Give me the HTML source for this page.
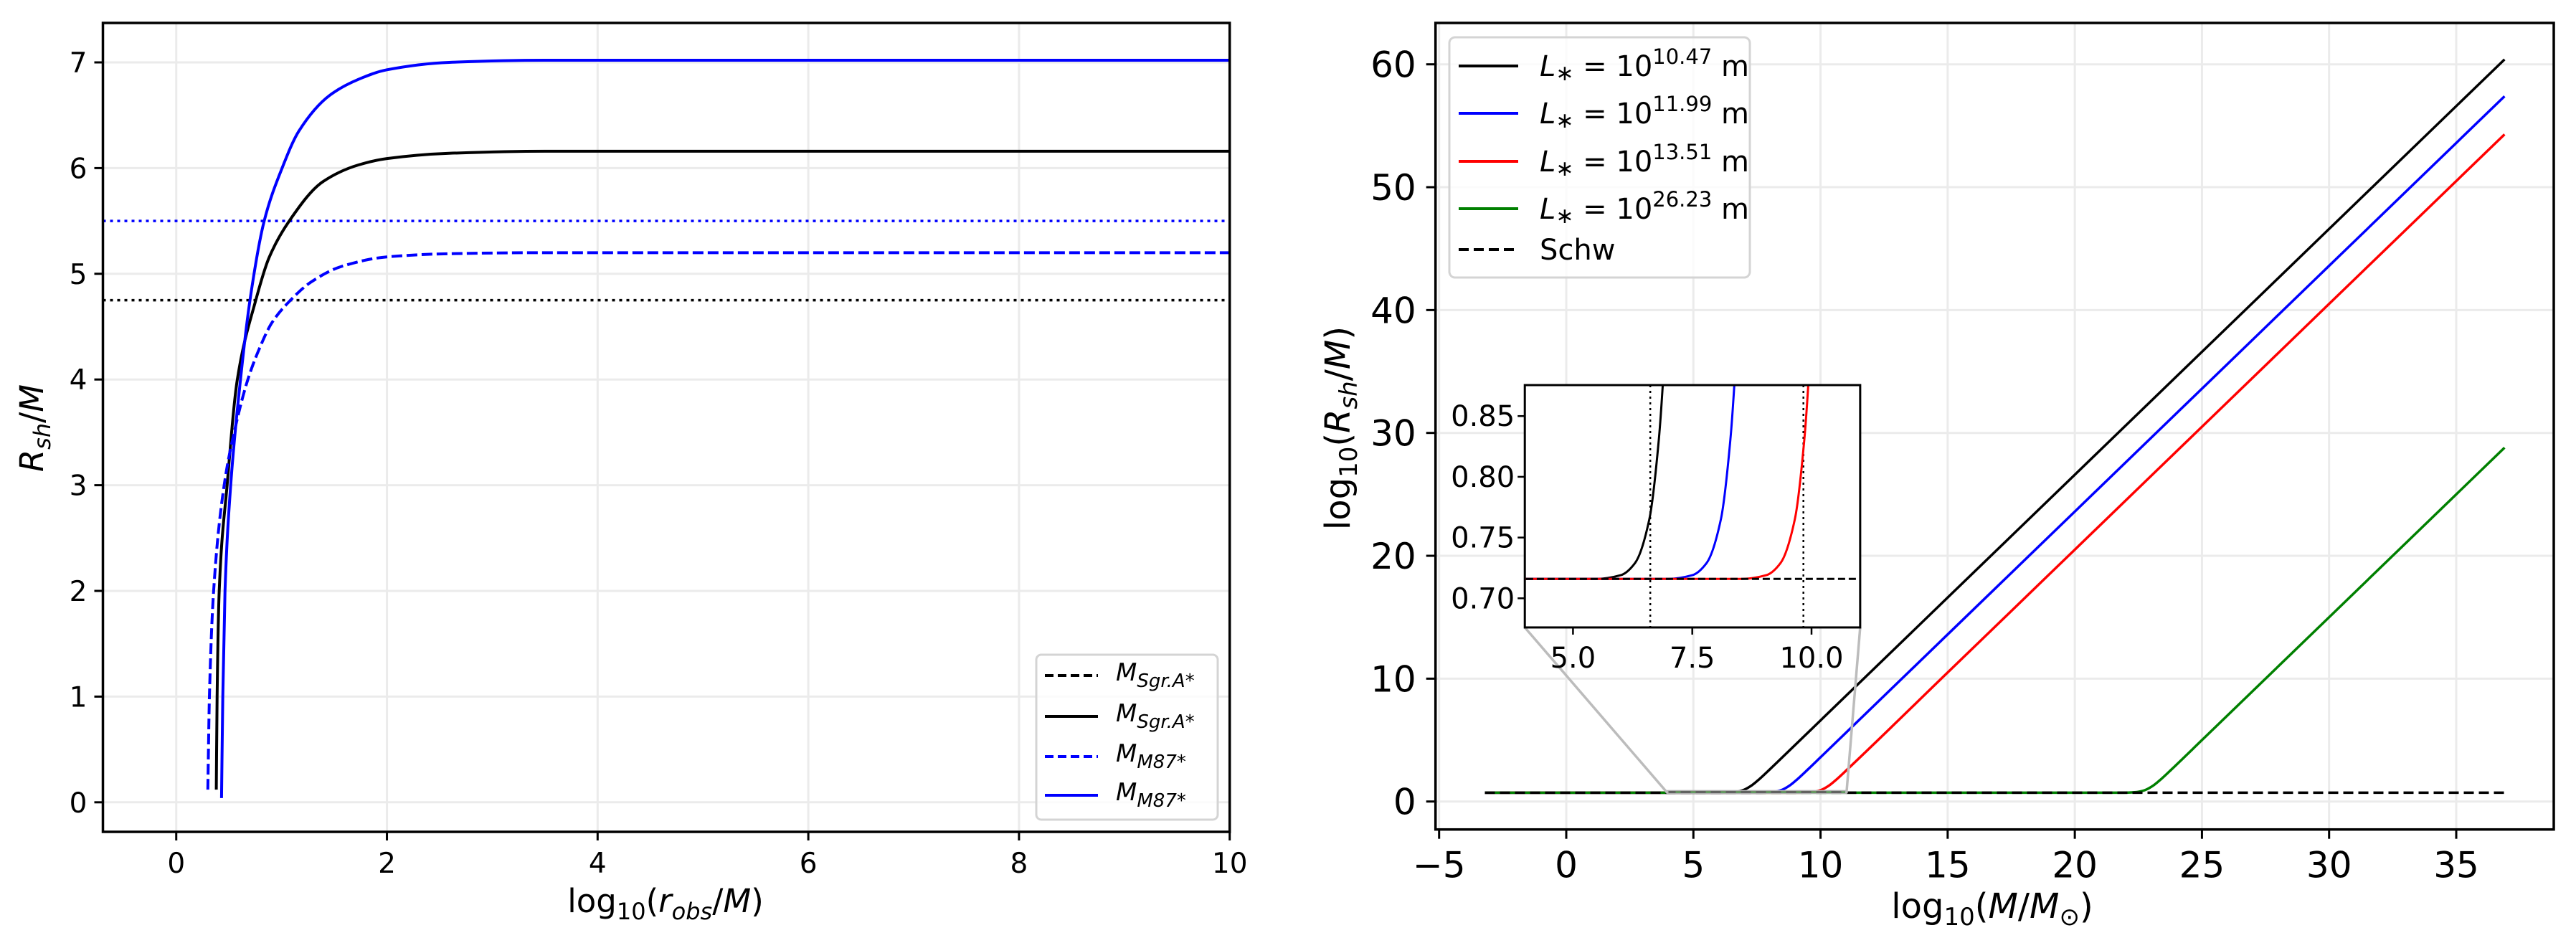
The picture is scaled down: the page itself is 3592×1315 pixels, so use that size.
<!DOCTYPE html>
<html><head><meta charset="utf-8"><style>
html,body{margin:0;padding:0;background:#fff;}
svg{display:block;font-family:"DejaVu Sans","Liberation Sans",sans-serif;}
</style></head><body>
<svg id="fig" width="3592" height="1315" viewBox="0 0 3592 1315" xmlns="http://www.w3.org/2000/svg"></svg>
<script>
// ---------- LEFT CHART DATA ----------
const leftXTicks = [0, 2, 4, 6, 8, 10];
const leftYTicks = [0, 1, 2, 3, 4, 5, 6, 7];
const sgrSolidX = [0.38, 0.388, 0.408, 0.483, 0.58, 0.755, 0.88, 1.073, 1.39, 1.73, 2.0, 2.59, 3.5, 10];
const sgrSolidY = [0.12, 1, 2, 3, 4, 4.75, 5.15, 5.5, 5.87, 6.03, 6.09, 6.14, 6.16, 6.16];
const m87SolidX = [0.43, 0.442, 0.463, 0.517, 0.61, 0.70, 0.835, 1.005, 1.164, 1.459, 1.731, 2.0, 2.59, 3.5, 10];
const m87SolidY = [0.04, 1, 2, 3, 4.0, 4.75, 5.5, 6.0, 6.35, 6.69, 6.84, 6.93, 7.0, 7.02, 7.02];
const m87DashX = [0.30, 0.315, 0.355, 0.455, 0.55, 0.68, 0.78, 0.91, 1.085, 1.277, 1.57, 2.0, 2.59, 3.5, 10];
const m87DashY = [0.12, 1, 2, 3, 3.5, 4.0, 4.27, 4.54, 4.75, 4.92, 5.07, 5.16, 5.19, 5.2, 5.2];
const sgrDottedLevel = 4.75;
const m87DottedLevel = 5.5;

// ---------- RIGHT CHART DATA ----------
const rightXTicks = [-5, 0, 5, 10, 15, 20, 25, 30, 35];
const rightYTicks = [0, 10, 20, 30, 40, 50, 60];
const insetXTicks = [5.0, 7.5, 10.0];
const insetYTicks = [0.70, 0.75, 0.80, 0.85];
const l1047X = [-3.2, 5.5, 6.0, 6.3, 6.6, 6.8, 6.9, 7.0, 7.3, 7.6, 8, 9, 10, 15, 20, 25, 30, 36.9];
const l1047Y = [0.716, 0.716, 0.719, 0.729, 0.765, 0.831, 0.887, 0.963, 1.323, 1.834, 2.606, 4.6, 6.6, 16.6, 26.6, 36.6, 46.6, 60.4];
const l1199X = [-3.2, 7.0, 7.5, 7.8, 8.1, 8.3, 8.4, 8.5, 8.8, 9.1, 9.5, 10, 15, 20, 25, 30, 36.9];
const l1199Y = [0.716, 0.716, 0.719, 0.729, 0.765, 0.831, 0.887, 0.963, 1.323, 1.834, 2.606, 3.6, 13.6, 23.6, 33.6, 43.6, 57.4];
const l1351X = [-3.2, 8.55, 9.05, 9.35, 9.65, 9.85, 9.95, 10.05, 10.35, 10.65, 11.05, 15, 20, 25, 30, 36.9];
const l1351Y = [0.716, 0.716, 0.719, 0.729, 0.765, 0.831, 0.887, 0.963, 1.323, 1.834, 2.606, 10.5, 20.5, 30.5, 40.5, 54.3];
const l2623X = [-3.2, 21.3, 21.8, 22.1, 22.4, 22.6, 22.7, 22.8, 23.1, 23.4, 23.8, 25, 30, 36.9];
const l2623Y = [0.716, 0.716, 0.719, 0.729, 0.765, 0.831, 0.887, 0.963, 1.323, 1.834, 2.606, 5, 15, 28.8];
const schwX = [-3.2, 36.9];
const schwY = [0.716, 0.716];
const insetVLines = [6.62, 9.83];

const NS = "http://www.w3.org/2000/svg";
const svg = document.getElementById('fig');
function mk(tag, attrs, parent) {
  const e = document.createElementNS(NS, tag);
  for (const k in attrs) e.setAttribute(k, attrs[k]);
  (parent || svg).appendChild(e);
  return e;
}
function lin(d0, d1, r0, r1) { return v => r0 + (v - d0) * (r1 - r0) / (d1 - d0); }

// monotone cubic path through pixel points (x increasing)
function smoothPath(px, py) {
  const n = px.length;
  if (n < 3) return px.map((x, i) => (i ? 'L' : 'M') + x.toFixed(1) + ' ' + py[i].toFixed(1)).join(' ');
  const d = [], m = new Array(n);
  for (let i = 0; i < n - 1; i++) d.push((py[i + 1] - py[i]) / Math.max(px[i + 1] - px[i], 1e-6));
  m[0] = d[0]; m[n - 1] = d[n - 2];
  for (let i = 1; i < n - 1; i++) {
    if (d[i - 1] * d[i] <= 0) m[i] = 0;
    else {
      const w1 = 2 * (px[i + 1] - px[i]) + (px[i] - px[i - 1]);
      const w2 = (px[i + 1] - px[i]) + 2 * (px[i] - px[i - 1]);
      m[i] = (w1 + w2) / (w1 / d[i - 1] + w2 / d[i]);
    }
  }
  let s = 'M' + px[0].toFixed(1) + ' ' + py[0].toFixed(1);
  for (let i = 0; i < n - 1; i++) {
    const h = px[i + 1] - px[i];
    s += ' C' + (px[i] + h / 3).toFixed(2) + ' ' + (py[i] + m[i] * h / 3).toFixed(2) + ' ' +
      (px[i + 1] - h / 3).toFixed(2) + ' ' + (py[i + 1] - m[i + 1] * h / 3).toFixed(2) + ' ' +
      px[i + 1].toFixed(2) + ' ' + py[i + 1].toFixed(2);
  }
  return s;
}

// ---- left axes ----
const L = {x0: 143.5, x1: 1714.7, y0: 32, y1: 1160};
const lx = lin(-0.696, 10, L.x0, L.x1);
const ly = lin(0, 7, 1118.8, 87);
const lg = mk('g', {});


mk('defs', {}).innerHTML = '<clipPath id="clipL"><rect x="143.5" y="32" width="1571.2" height="1128"/></clipPath><clipPath id="clipR"><rect x="2001.7" y="32" width="1559.3" height="1124.7"/></clipPath><clipPath id="clipI"><rect x="2126" y="537" width="468" height="337.6"/></clipPath>';

leftXTicks.forEach(t => {
  const gl = mk('line', {x1: lx(t), x2: lx(t), y1: L.y0, y2: L.y1, stroke: '#ebebeb', 'stroke-width': 3}, lg);
  
  
  mk('line', {x1: lx(t), x2: lx(t), y1: L.y1, y2: L.y1 + 12, stroke: '#000', 'stroke-width': 3}, lg);
  const tx = mk('text', {x: lx(t), y: L.y1 + 57, 'text-anchor': 'middle', 'font-size': 39}, lg);
  tx.textContent = t;
  
  
});
leftYTicks.forEach(t => {
  const gl = mk('line', {x1: L.x0, x2: L.x1, y1: ly(t), y2: ly(t), stroke: '#ebebeb', 'stroke-width': 3}, lg);
  
  
  mk('line', {x1: L.x0 - 12, x2: L.x0, y1: ly(t), y2: ly(t), stroke: '#000', 'stroke-width': 3}, lg);
  const tx = mk('text', {x: L.x0 - 22, y: ly(t) + 14, 'text-anchor': 'end', 'font-size': 39}, lg);
  tx.textContent = t;
  
  
});
const lclip = mk('g', {'clip-path': 'url(#clipL)'}, lg);
function hline(level, color, ysc, parent, name, dash) {
  const e = mk('line', {x1: L.x0, x2: L.x1, y1: ysc(level), y2: ysc(level), stroke: color, 'stroke-width': 3.5, 'stroke-dasharray': dash}, parent);
  
  
}
hline(m87DottedLevel, '#0000ff', ly, lclip, 'm87-dotted-line', '4 6');
hline(sgrDottedLevel, '#000', ly, lclip, 'sgr-dotted-line', '4 6');
function series(xs, ys, fx, fy, color, parent, name, dash, w) {
  const d = smoothPath(xs.map(fx), ys.map(fy));
  const p = mk('path', {d: d, fill: 'none', stroke: color, 'stroke-width': w || 4, 'stroke-linejoin': 'round'}, parent);
  if (dash) p.setAttribute('stroke-dasharray', dash);
  
  
  return p;
}
series(sgrSolidX, sgrSolidY, lx, ly, '#000', lclip, 'sgr-solid-curve');
series(m87DashX, m87DashY, lx, ly, '#0000ff', lclip, 'm87-dashed-curve', '15 6');
series(m87SolidX, m87SolidY, lx, ly, '#0000ff', lclip, 'm87-solid-curve');
mk('rect', {x: L.x0, y: L.y0, width: L.x1 - L.x0, height: L.y1 - L.y0, fill: 'none', stroke: '#000', 'stroke-width': 3.5}, lg);

// left labels
let t = mk('text', {x: 928, y: 1272, 'text-anchor': 'middle', 'font-size': 45}, lg);
t.innerHTML = 'log<tspan font-size="32" dy="10">10</tspan><tspan dy="-10">(</tspan><tspan font-style="italic">r</tspan><tspan font-style="italic" font-size="32" dy="10">obs</tspan><tspan dy="-10">/</tspan><tspan font-style="italic">M</tspan>)';


t = mk('text', {x: 0, y: 0, 'text-anchor': 'middle', 'font-size': 45, transform: 'translate(60,597) rotate(-90)'}, lg);
t.innerHTML = '<tspan font-style="italic">R</tspan><tspan font-style="italic" font-size="32" dy="10">sh</tspan><tspan dy="-10">/</tspan><tspan font-style="italic">M</tspan>';



// left legend
const leg = mk('g', {}, lg);


mk('rect', {x: 1445, y: 913, width: 253, height: 230, rx: 7, fill: '#fff', 'fill-opacity': 0.8, stroke: '#d4d4d4', 'stroke-width': 3}, leg);
const lEntries = [['#000', '12 6', 'Sgr.A*'], ['#000', null, 'Sgr.A*'], ['#0000ff', '12 6', 'M87*'], ['#0000ff', null, 'M87*']];
const lEntY = [942, 999, 1055, 1109];
lEntries.forEach((en, i) => {
  const g = mk('g', {}, leg);
  
  
  const ln = mk('line', {x1: 1457, x2: 1531, y1: lEntY[i], y2: lEntY[i], stroke: en[0], 'stroke-width': 4}, g);
  if (en[1]) ln.setAttribute('stroke-dasharray', en[1]);
  const tx = mk('text', {x: 1556, y: lEntY[i] + 7, 'font-size': 34, 'font-style': 'italic'}, g);
  tx.innerHTML = 'M<tspan font-size="26" dy="9">' + en[2] + '</tspan>';
});

// ---- right axes ----
const R = {x0: 2001.7, x1: 3561, y0: 32, y1: 1156.7};
const rx = lin(-5, 35, 2006.7, 3425);
const ry = lin(0, 60, 1117.7, 89.7);
const rg = mk('g', {});


rightXTicks.forEach(v => {
  const gl = mk('line', {x1: rx(v), x2: rx(v), y1: R.y0, y2: R.y1, stroke: '#ebebeb', 'stroke-width': 3}, rg);
  
  
  mk('line', {x1: rx(v), x2: rx(v), y1: R.y1, y2: R.y1 + 13, stroke: '#000', 'stroke-width': 3}, rg);
  const tx = mk('text', {x: rx(v), y: R.y1 + 67, 'text-anchor': 'middle', 'font-size': 50}, rg);
  tx.textContent = v < 0 ? '\u2212' + (-v) : v;
  
  
});
rightYTicks.forEach(v => {
  const gl = mk('line', {x1: R.x0, x2: R.x1, y1: ry(v), y2: ry(v), stroke: '#ebebeb', 'stroke-width': 3}, rg);
  
  
  mk('line', {x1: R.x0 - 13, x2: R.x0, y1: ry(v), y2: ry(v), stroke: '#000', 'stroke-width': 3}, rg);
  const tx = mk('text', {x: R.x0 - 27, y: ry(v) + 18, 'text-anchor': 'end', 'font-size': 50}, rg);
  tx.textContent = v;
  
  
});
const rclip = mk('g', {'clip-path': 'url(#clipR)'}, rg);
series(l1047X, l1047Y, rx, ry, '#000', rclip, 'curve-l-10-47', null, 3.5);
series(l1199X, l1199Y, rx, ry, '#0000ff', rclip, 'curve-l-11-99', null, 3.5);
series(l1351X, l1351Y, rx, ry, '#ff0000', rclip, 'curve-l-13-51', null, 3.5);
series(l2623X, l2623Y, rx, ry, '#008000', rclip, 'curve-l-26-23', null, 3.5);
series(schwX, schwY, rx, ry, '#000', rclip, 'schw-dashed-line', '14 7', 3.5);
mk('rect', {x: R.x0, y: R.y0, width: R.x1 - R.x0, height: R.y1 - R.y0, fill: 'none', stroke: '#000', 'stroke-width': 3.5}, rg);

// inset
const ix = lin(5, 10, 2193.4, 2526);
const iy = lin(0.70, 0.85, 834.3, 580.2);
const ixMin = 3.99, ixMax = 11.02, iyMin = 0.676, iyMax = 0.8755;
const ind = mk('rect', {x: rx(ixMin), y: ry(iyMax), width: rx(ixMax) - rx(ixMin), height: ry(iyMin) - ry(iyMax), fill: 'none', stroke: '#b0b0b0', 'stroke-width': 2}, rg);


let c = mk('line', {x1: ix(ixMin), y1: iy(iyMin), x2: rx(ixMin), y2: ry(iyMin), stroke: '#bcbcbc', 'stroke-width': 3.5}, rg);


c = mk('line', {x1: ix(ixMax), y1: iy(iyMin), x2: rx(ixMax), y2: ry(iyMin), stroke: '#bcbcbc', 'stroke-width': 3.5}, rg);


const ig = mk('g', {}, rg);


mk('rect', {x: ix(ixMin), y: iy(iyMax), width: ix(ixMax) - ix(ixMin), height: iy(iyMin) - iy(iyMax), fill: '#fff'}, ig);
const iclip = mk('g', {'clip-path': 'url(#clipI)'}, ig);
insetVLines.forEach(v => {
  const e = mk('line', {x1: ix(v), x2: ix(v), y1: iy(iyMax), y2: iy(iyMin), stroke: '#000', 'stroke-width': 2.5, 'stroke-dasharray': '3 5'}, iclip);
  
  
});
series(l1047X, l1047Y, ix, iy, '#000', iclip, 'inset-curve-l-10-47', null, 3);
series(l1199X, l1199Y, ix, iy, '#0000ff', iclip, 'inset-curve-l-11-99', null, 3);
series(l1351X, l1351Y, ix, iy, '#ff0000', iclip, 'inset-curve-l-13-51', null, 3);
series(schwX, schwY, ix, iy, '#000', iclip, 'inset-schw-line', '10 5', 3);
mk('rect', {x: ix(ixMin), y: iy(iyMax), width: ix(ixMax) - ix(ixMin), height: iy(iyMin) - iy(iyMax), fill: 'none', stroke: '#000', 'stroke-width': 3}, ig);
insetXTicks.forEach(v => {
  mk('line', {x1: ix(v), x2: ix(v), y1: iy(iyMin), y2: iy(iyMin) + 10, stroke: '#000', 'stroke-width': 2.5}, ig);
  const tx = mk('text', {x: ix(v), y: iy(iyMin) + 56, 'text-anchor': 'middle', 'font-size': 40}, ig);
  tx.textContent = v.toFixed(1);
  
  
});
insetYTicks.forEach(v => {
  mk('line', {x1: ix(ixMin) - 10, x2: ix(ixMin), y1: iy(v), y2: iy(v), stroke: '#000', 'stroke-width': 2.5}, ig);
  const tx = mk('text', {x: ix(ixMin) - 14, y: iy(v) + 14, 'text-anchor': 'end', 'font-size': 40}, ig);
  tx.textContent = v.toFixed(2);
  
  
});

// right labels
t = mk('text', {x: 2778, y: 1280, 'text-anchor': 'middle', 'font-size': 48}, rg);
t.innerHTML = 'log<tspan font-size="34" dy="10">10</tspan><tspan dy="-10">(</tspan><tspan font-style="italic">M</tspan>/<tspan font-style="italic">M</tspan><tspan font-size="34" dy="10">\u2299</tspan><tspan dy="-10">)</tspan>';


t = mk('text', {x: 0, y: 0, 'text-anchor': 'middle', 'font-size': 48, transform: 'translate(1882,597) rotate(-90)'}, rg);
t.innerHTML = 'log<tspan font-size="34" dy="10">10</tspan><tspan dy="-10">(</tspan><tspan font-style="italic">R</tspan><tspan font-style="italic" font-size="34" dy="10">sh</tspan><tspan dy="-10">/</tspan><tspan font-style="italic">M</tspan>)';



// right legend
const rleg = mk('g', {}, rg);


mk('rect', {x: 2021, y: 52, width: 419, height: 335, rx: 8, fill: '#fff', 'fill-opacity': 0.8, stroke: '#d4d4d4', 'stroke-width': 3}, rleg);
const rEntries = [['#000', '10.47'], ['#0000ff', '11.99'], ['#ff0000', '13.51'], ['#008000', '26.23']];
const rEntY = [92, 158, 225, 291];
rEntries.forEach((en, i) => {
  const g = mk('g', {}, rleg);
  
  
  mk('line', {x1: 2034, x2: 2117, y1: rEntY[i], y2: rEntY[i], stroke: en[0], 'stroke-width': 4}, g);
  const tx = mk('text', {x: 2147, y: rEntY[i] + 14, 'font-size': 40}, g);
  tx.innerHTML = '<tspan font-style="italic">L</tspan><tspan font-size="30" dy="6">\u2217</tspan><tspan dy="-6"> = 10</tspan><tspan font-size="29" dy="-17">' + en[1] + '</tspan><tspan dy="17"> m</tspan>';
});
const sg = mk('g', {}, rleg);


mk('line', {x1: 2034, x2: 2117, y1: 348, y2: 348, stroke: '#000', 'stroke-width': 4, 'stroke-dasharray': '14 7'}, sg);
const st = mk('text', {x: 2147, y: 362, 'font-size': 40}, sg);
st.textContent = 'Schw';
</script>
</body></html>
